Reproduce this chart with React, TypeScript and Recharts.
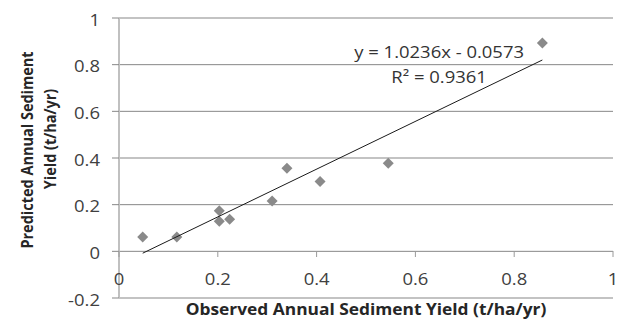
import React from "react";
import {
  ScatterChart,
  Scatter,
  XAxis,
  YAxis,
  CartesianGrid,
  ReferenceDot,
} from "recharts";

// Observed vs predicted annual sediment yield (t/ha/yr)
const observed = [0.048, 0.117, 0.203, 0.203, 0.224, 0.31, 0.34, 0.407, 0.545, 0.857];
const predicted = [0.061, 0.061, 0.174, 0.129, 0.137, 0.216, 0.356, 0.299, 0.377, 0.893];

// Linear trendline endpoints (y = 1.0236x - 0.0573 over the data range)
const trendX = [0.048, 0.857];
const trendY = [-0.008, 0.82];

const xTicks = [0, 0.2, 0.4, 0.6, 0.8, 1];
const yTicks = [-0.2, 0, 0.2, 0.4, 0.6, 0.8, 1];

const equationText = "y = 1.0236x - 0.0573";
const r2Text = "R\u00B2 = 0.9361";
const xTitle = "Observed Annual Sediment Yield (t/ha/yr)";
const yTitleLines = ["Predicted Annual Sediment", "Yield (t/ha/yr)"];

const points = observed.map((x, i) => ({ x, y: predicted[i] }));
const trend = trendX.map((x, i) => ({ x, y: trendY[i] }));

const FONT = "'Open Sans', sans-serif";
const TICK_COLOR = "#404040";
const TITLE_COLOR = "#262626";
const GRID = "#878787";
const STRETCH = 1.12; // the reference text is slightly wider than it is tall
const TICK_FS = 16.5;

const Diamond = (props: any) => {
  const { cx, cy } = props;
  const r = 5.5;
  return (
    <polygon
      points={`${cx},${cy - r} ${cx + r},${cy} ${cx},${cy + r} ${cx - r},${cy}`}
      fill="#8a8a8a"
    />
  );
};

const NoShape = () => <g />;

// x-axis crosses the y axis at 0, one band (-0.2..0) above the plot bottom
const ZERO_OFFSET = 47;

const XTick = (props: any) => {
  const { x, y, payload } = props;
  const axisY = y - ZERO_OFFSET;
  return (
    <g>
      <line x1={x} y1={axisY} x2={x} y2={axisY + 6} stroke="#9a9a9a" strokeWidth={1} />
      <text
        transform={`translate(${x},${axisY + 27}) scale(${STRETCH},1)`}
        textAnchor="middle"
        dominantBaseline="central"
        fontFamily={FONT}
        fontSize={TICK_FS}
        fill={TICK_COLOR}
      >
        {String(payload.value)}
      </text>
    </g>
  );
};

const YTick = (props: any) => {
  const { x, y, payload } = props;
  return (
    <text
      transform={`translate(${x},${y + 1}) scale(${STRETCH},1)`}
      textAnchor="end"
      dominantBaseline="central"
      fontFamily={FONT}
      fontSize={TICK_FS}
      fill={TICK_COLOR}
    >
      {String(payload.value)}
    </text>
  );
};

const EqLabel = (props: any) => {
  const { viewBox } = props;
  const cx = viewBox.cx ?? viewBox.x;
  const cy = viewBox.cy ?? viewBox.y;
  return (
    <g fontFamily={FONT} fontSize={16.5} fill="#333">
      <text
        transform={`translate(${cx},${cy}) scale(${STRETCH},1)`}
        textAnchor="middle"
        dominantBaseline="central"
      >
        {equationText}
      </text>
      <text
        transform={`translate(${cx},${cy + 25}) scale(${STRETCH},1)`}
        textAnchor="middle"
        dominantBaseline="central"
      >
        {r2Text}
      </text>
    </g>
  );
};

export default function App() {
  return (
    <div style={{ position: "absolute", left: 0, top: 0, width: 622, height: 327, background: "#fff" }}>
      <ScatterChart
        width={622}
        height={327}
        margin={{ top: 18, right: 9, bottom: 0, left: 59 }}
      >
        <CartesianGrid horizontal vertical={false} stroke={GRID} strokeWidth={1} />
        <XAxis
          type="number"
          dataKey="x"
          domain={[0, 1]}
          ticks={xTicks}
          height={29}
          axisLine={false}
          tickLine={false}
          tickSize={0}
          tickMargin={0}
          tick={<XTick />}
          interval={0}
        />
        <YAxis
          type="number"
          dataKey="y"
          domain={[-0.2, 1]}
          ticks={yTicks}
          width={60}
          axisLine={{ stroke: "#c0c0c0", strokeWidth: 2 }}
          tickLine={{ stroke: GRID }}
          tickSize={7}
          tickMargin={12}
          tick={<YTick />}
          interval={0}
        />
        <Scatter data={points} shape={<Diamond />} isAnimationActive={false} />
        <Scatter
          data={trend}
          line={{ stroke: "#1a1a1a", strokeWidth: 1 }}
          lineType="joint"
          shape={<NoShape />}
          isAnimationActive={false}
        />
        <ReferenceDot x={0.648} y={0.855} r={0} fill="none" stroke="none" label={<EqLabel />} />
      </ScatterChart>
      <svg
        width={622}
        height={327}
        style={{ position: "absolute", left: 0, top: 0, pointerEvents: "none" }}
      >
        <text
          transform={`translate(366,309) scale(${STRETCH},1)`}
          textAnchor="middle"
          dominantBaseline="central"
          fontFamily={FONT}
          fontSize={15.5}
          fontWeight="bold"
          fill={TITLE_COLOR}
        >
          {xTitle}
        </text>
        <text
          transform={`translate(27,150) scale(${STRETCH},1) rotate(-90)`}
          textAnchor="middle"
          dominantBaseline="central"
          fontFamily={FONT}
          fontSize={14.5}
          fontWeight="bold"
          fill={TITLE_COLOR}
        >
          {yTitleLines[0]}
        </text>
        <text
          transform={`translate(50,139) scale(${STRETCH},1) rotate(-90)`}
          textAnchor="middle"
          dominantBaseline="central"
          fontFamily={FONT}
          fontSize={14.5}
          fontWeight="bold"
          fill={TITLE_COLOR}
        >
          {yTitleLines[1]}
        </text>
      </svg>
    </div>
  );
}
